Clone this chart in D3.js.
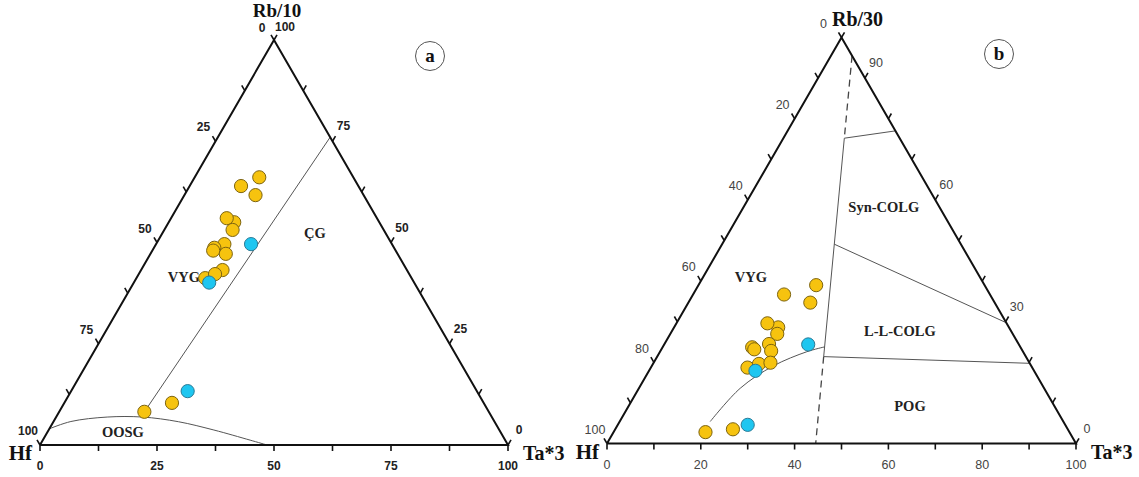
<!DOCTYPE html>
<html><head><meta charset="utf-8">
<script src="https://cdn.jsdelivr.net/npm/d3@7"></script>
<style>html,body{margin:0;padding:0;background:#fff;}</style>
</head><body>
<svg id="chart" width="1139" height="477"></svg>
<script>
// ---------- DATA (ternary triples: [Hf, Rb, Ta]) ----------
// Panel a : Hf - Rb/10 - Ta*3
const aTickValues = [0, 12.5, 25, 37.5, 50, 62.5, 75, 87.5, 100];
const aBottomLabels = [0, 25, 50, 75, 100];
const aLeftLabels = [0, 25, 50, 75, 100];
const aRightLabels = [0, 25, 50, 75, 100];
const aYellow = [
  [20.1, 66.1, 13.8], [25.1, 64.0, 11.0], [23.1, 61.7, 15.2],
  [31.0, 55.0, 14.0], [32.1, 56.0, 11.9], [32.3, 53.1, 14.6],
  [35.8, 49.6, 14.6], [36.7, 47.2, 16.1], [38.4, 48.7, 12.9], [39.0, 48.0, 13.0],
  [39.4, 43.2, 17.4], [44.1, 41.2, 14.7], [41.5, 42.2, 16.3],
  [73.6, 8.2, 18.2], [66.6, 10.4, 23.0]
];
const aBlue = [[30.1, 49.6, 20.3], [43.8, 40.1, 16.1], [61.8, 13.3, 24.9]];
const aBoundaryLine = [[75.0, 6.9, 18.1], [0, 76.0, 24.0]];
const aOOSGCurve = [[96, 4, 0], [90.5, 5.8, 3.7], [82.2, 6.9, 10.9], [74.6, 6.9, 18.5],
  [67.55, 5.75, 26.7], [61, 3.7, 35.3], [54.5, 1.2, 44.3], [51.5, 0, 48.5]];
const aFieldNames = ["ÇG", "VYG", "OOSG"];
const aFieldPos = [[15.1, 52.3, 32.6], [48.5, 41.5, 10.0], [80.7, 3.2, 16.1]];

// Panel b : Hf - Rb/30 - Ta*3
const bTickValues = [0, 10, 20, 30, 40, 50, 60, 70, 80, 90, 100];
const bBottomLabels = [0, 20, 40, 60, 80, 100];
const bLeftLabels = [0, 20, 40, 60, 80, 100];
const bRightLabels = [0, 30, 60, 90];
const bYellow = [
  [35.9, 39.0, 25.1], [43.9, 36.7, 19.4], [39.3, 34.7, 26.0],
  [49.2, 28.6, 22.2], [51.0, 29.6, 19.4], [50.2, 27.0, 22.8],
  [57.2, 23.7, 19.1], [57.0, 23.2, 19.8], [53.2, 24.5, 22.3], [53.6, 22.8, 23.6],
  [60.7, 18.7, 20.6], [57.8, 19.6, 22.6], [55.2, 19.9, 24.9],
  [77.6, 2.8, 19.6], [71.4, 3.5, 25.1]
];
const bBlue = [[44.9, 24.4, 30.7], [59.4, 17.9, 22.7], [67.7, 4.6, 27.7]];
const bDividerDashTop = [[0, 95.5, 4.5], [11.8, 75.2, 13.0]];
const bDividerSolid = [[11.8, 75.2, 13.0], [43.1, 21.4, 35.5]];
const bDividerDashBottom = [[43.1, 21.4, 35.5], [55.5, 0, 44.5]];
const bSynLine = [[11.8, 75.2, 13.0], [0, 77.0, 23.0]];
const bLLLine = [[27.0, 49.1, 23.9], [0, 29.75, 70.25]];
const bPOGLine = [[43.1, 21.4, 35.5], [0, 19.75, 80.25]];
const bCurve = [[75.3, 5.4, 19.3], [64.8, 13.6, 21.6], [55.0, 19.1, 25.9],
  [46.1, 22.6, 31.3], [41.7, 23.8, 34.5]];
const bFieldNames = ["VYG", "Syn-COLG", "L-L-COLG", "POG"];
const bFieldPos = [[48.8, 41.0, 10.2], [11.85, 58.25, 29.9], [23.7, 27.7, 48.6], [30.8, 9.2, 60.0]];

// ---------- DRAW ----------
const svg = d3.select("#chart");
svg.append("rect").attr("width", 1139).attr("height", 477).attr("fill", "#fff");

const SERIF = "'Liberation Serif','Times New Roman',serif";
const SANS = "'Liberation Sans',Arial,sans-serif";

function makePanel(cfg) {
  const g = svg.append("g");
  const x = d3.scaleLinear().domain([0, 100]).range([cfg.x0, cfg.x1]);
  const y = d3.scaleLinear().domain([0, 100]).range([cfg.base, cfg.apex]);
  const P = p => { const s = p[0] + p[1] + p[2]; const rb = p[1] / s * 100, ta = p[2] / s * 100; return [x(ta + rb / 2), y(rb)]; };
  const line = d3.line().x(d => P(d)[0]).y(d => P(d)[1]);

  // internal boundaries
  cfg.solid.forEach(seg => g.append("path").attr("d", line(seg)).attr("fill", "none")
    .attr("stroke", "#555").attr("stroke-width", 1));
  (cfg.dashed || []).forEach(seg => g.append("path").attr("d", line(seg)).attr("fill", "none")
    .attr("stroke", "#444").attr("stroke-width", 1.3).attr("stroke-dasharray", "7,5"));
  (cfg.curves || []).forEach(c => g.append("path")
    .attr("d", d3.line().x(d => P(d)[0]).y(d => P(d)[1]).curve(d3.curveCatmullRom)(c))
    .attr("fill", "none").attr("stroke", "#555").attr("stroke-width", 1));

  // triangle
  const tri = [[100, 0, 0], [0, 100, 0], [0, 0, 100], [100, 0, 0]];
  g.append("path").attr("d", line(tri)).attr("fill", "none").attr("stroke", "#111")
    .attr("stroke-width", 2).attr("stroke-linejoin", "miter");

  // ticks
  const L = 6, c = Math.cos(Math.PI / 3), s = Math.sin(Math.PI / 3);
  cfg.ticks.forEach(v => {
    const pl = P([v, 100 - v, 0]);
    g.append("line").attr("x1", pl[0]).attr("y1", pl[1]).attr("x2", pl[0] - c * L).attr("y2", pl[1] - s * L)
      .attr("stroke", "#111").attr("stroke-width", 1.6);
    const pr = P([0, v, 100 - v]);
    g.append("line").attr("x1", pr[0]).attr("y1", pr[1]).attr("x2", pr[0] + c * L).attr("y2", pr[1] - s * L)
      .attr("stroke", "#111").attr("stroke-width", 1.6);
    const pb = P([100 - v, 0, v]);
    g.append("line").attr("x1", pb[0]).attr("y1", pb[1]).attr("x2", pb[0]).attr("y2", pb[1] + L)
      .attr("stroke", "#111").attr("stroke-width", 1.6);
  });

  const lab = (px, py, t) => g.append("text").attr("x", px).attr("y", py).attr("dy", "0.35em")
    .attr("text-anchor", "middle").attr("font-family", SANS).attr("font-size", cfg.labSize)
    .attr("font-weight", cfg.labWeight).attr("fill", cfg.labColor).text(t);
  cfg.left.forEach(v => { const p = P([v, 100 - v, 0]); lab(p[0] - 12 + (v === 0 ? cfg.topShift : 0), p[1] - 14 + (v === 0 ? cfg.topDy : 0), v); });
  cfg.right.forEach(v => { const p = P([0, v, 100 - v]); lab(p[0] + 11, p[1] - 15 + (v === 100 ? cfg.topDy : 0), v); });
  cfg.bottom.forEach(v => { const p = P([100 - v, 0, v]); lab(p[0], p[1] + 21, v); });

  // axis titles
  const ph = P([100, 0, 0]), pt = P([0, 0, 100]), pa = P([0, 100, 0]);
  g.append("text").attr("x", ph[0] - 8).attr("y", ph[1] + 8).attr("dy", "0.35em").attr("text-anchor", "end")
    .attr("font-family", SERIF).attr("font-weight", "bold").attr("font-size", 21).attr("fill", "#111").text("Hf");
  g.append("text").attr("x", pt[0] + 15).attr("y", pt[1] + 8).attr("dy", "0.35em").attr("text-anchor", "start")
    .attr("font-family", SERIF).attr("font-weight", "bold").attr("font-size", 20).attr("fill", "#111").text("Ta*3");
  g.append("text").attr("x", pa[0] + cfg.titleDx).attr("y", cfg.titleY).attr("dy", "0.35em").attr("text-anchor", "middle")
    .attr("font-family", SERIF).attr("font-weight", "bold").attr("font-size", cfg.titleSize).attr("fill", "#111").text(cfg.title);

  // field names
  cfg.fieldNames.forEach((n, i) => { const p = P(cfg.fieldPos[i]);
    g.append("text").attr("x", p[0]).attr("y", p[1]).attr("dy", "0.35em").attr("text-anchor", "middle")
      .attr("font-family", SERIF).attr("font-weight", "bold").attr("font-size", 14.5).attr("fill", "#222").text(n); });

  // points
  const pts = (data, fill, stroke) => g.selectAll(null).data(data).enter().append("circle")
    .attr("cx", d => P(d)[0]).attr("cy", d => P(d)[1]).attr("r", 6.6)
    .attr("fill", fill).attr("stroke", stroke).attr("stroke-width", 1);
  pts(cfg.yellow, "#F6C30F", "#7d6410");
  pts(cfg.blue, "#1EC6F0", "#2a7a96");

  // panel letter
  g.append("circle").attr("cx", cfg.letterX).attr("cy", cfg.letterY).attr("r", 14.5)
    .attr("fill", "none").attr("stroke", "#555").attr("stroke-width", 1);
  g.append("text").attr("x", cfg.letterX).attr("y", cfg.letterY).attr("dy", "0.33em").attr("text-anchor", "middle")
    .attr("font-family", SERIF).attr("font-weight", "bold").attr("font-size", 19).attr("fill", "#111").text(cfg.letter);
}

makePanel({
  x0: 40, x1: 508, base: 445, apex: 40,
  ticks: aTickValues, left: aLeftLabels, right: aRightLabels, bottom: aBottomLabels,
  labSize: 12, labWeight: "bold", labColor: "#222", topShift: 0, topDy: 1.5,
  title: "Rb/10", titleDx: 3, titleY: 10, titleSize: 19,
  solid: [aBoundaryLine], curves: [aOOSGCurve],
  fieldNames: aFieldNames, fieldPos: aFieldPos,
  yellow: aYellow, blue: aBlue, letter: "a", letterX: 430, letterY: 56
});
makePanel({
  x0: 607, x1: 1076, base: 443.5, apex: 37.5,
  ticks: bTickValues, left: bLeftLabels, right: bRightLabels, bottom: bBottomLabels,
  labSize: 12.5, labWeight: "normal", labColor: "#444", topShift: -6, topDy: 0,
  title: "Rb/30", titleDx: 16, titleY: 19, titleSize: 20,
  solid: [bDividerSolid, bSynLine, bLLLine, bPOGLine],
  dashed: [bDividerDashTop, bDividerDashBottom], curves: [bCurve],
  fieldNames: bFieldNames, fieldPos: bFieldPos,
  yellow: bYellow, blue: bBlue, letter: "b", letterX: 999, letterY: 54
});
</script>
</body></html>
